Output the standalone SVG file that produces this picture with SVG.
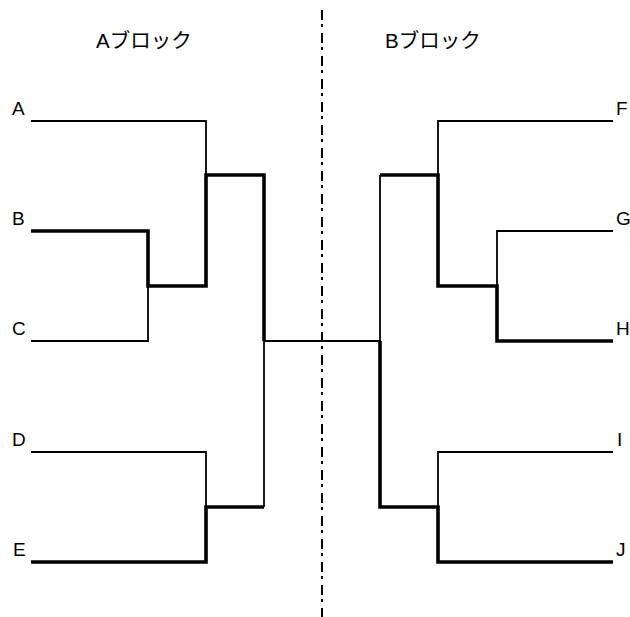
<svg xmlns="http://www.w3.org/2000/svg" width="630" height="617" viewBox="0 0 630 617">
<style>
text{font-family:"Liberation Sans","Noto Sans CJK JP",sans-serif;font-size:19px;fill:#000}
.title{font-size:20.5px}
.thin{fill:none;stroke:#000;stroke-width:1.8}
.thick{fill:none;stroke:#000;stroke-width:3.6}
.div{fill:none;stroke:#000;stroke-width:2;stroke-dasharray:10 4 3 6}
</style>
<rect width="630" height="617" fill="#fff"/>
<g id="titles">
<text class="title" x="96" y="48">Aブロック</text>
<text class="title" x="385" y="48">Bブロック</text>
</g>
<line id="divider" class="div" x1="322" y1="10" x2="322" y2="617"/>
<g id="connectors">
<path class="thin" d="M31 121H206V175"/>
<path class="thin" d="M31 341H148V286"/>
<path class="thin" d="M31 452H206V507"/>
<path class="thin" d="M264 507V341H380"/>
<path class="thin" d="M613 121H438V175"/>
<path class="thin" d="M613 231H497V286"/>
<path class="thin" d="M380 175V341"/>
<path class="thin" d="M613 452H438V507"/>
<path class="thick" d="M31 231H148V286H206V175H264V341"/>
<path class="thick" d="M31 562H206V507H264"/>
<path class="thick" d="M613 341H497V286H438V175H380"/>
<path class="thick" d="M613 562H438V507H380V341"/>
</g>
<g id="nA"><text x="12" y="115">A</text></g>
<g id="nB"><text x="12" y="225">B</text></g>
<g id="nC"><text x="12" y="335">C</text></g>
<g id="nD"><text x="12" y="446">D</text></g>
<g id="nE"><text x="13" y="556">E</text></g>
<g id="nF"><text x="616" y="115">F</text></g>
<g id="nG"><text x="616" y="225">G</text></g>
<g id="nH"><text x="616" y="335">H</text></g>
<g id="nI"><text x="617" y="446">I</text></g>
<g id="nJ"><text x="616" y="556">J</text></g>
</svg>
